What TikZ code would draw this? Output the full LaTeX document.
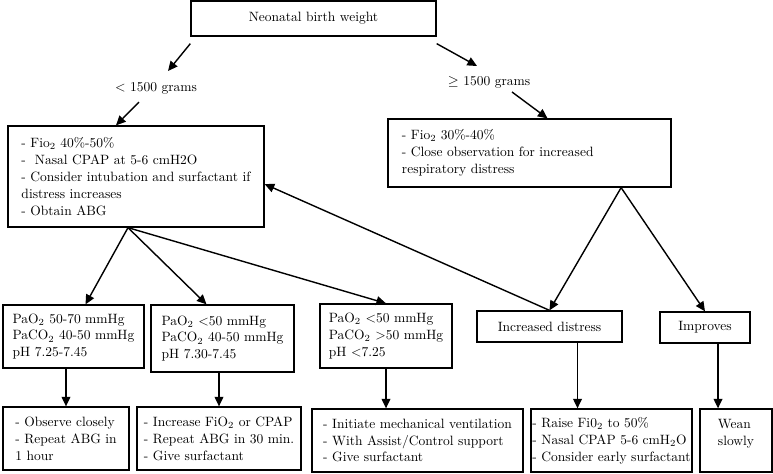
\documentclass[tikz,border=0pt]{standalone}
\usepackage{tikz}
\usetikzlibrary{arrows.meta}

\tikzset{
  box/.style={draw,line width=0.9pt,align=left,inner xsep=0pt},
  arr/.style={-{Triangle[length=2.4mm,width=2.2mm]},line width=1pt},
}

\begin{document}
\begin{tikzpicture}[x=0.025cm,y=-0.025cm,font=\fontsize{9.6}{12}\selectfont]
\useasboundingbox (0,0) rectangle (773,473);

\node (w) at (313.5,18.5) [box,align=center,minimum width=6.125cm,minimum height=0.875cm] {Neonatal birth weight};
\node (lo) at (156,88) {< 1500 grams};
\node (hi) at (489,82) {$\geq$ 1500 grams};

\node (low) at (136,176.5) [box,minimum width=6.4cm,minimum height=2.525cm] {- Fio\textsubscript{2} 40\%-50\%\\-\ \ Nasal CPAP at 5-6 cmH2O\\- Consider intubation and surfactant if\\distress increases\\- Obtain ABG};
\node (high) at (529.5,153) [box,text width=6.375cm,inner xsep=0.35cm,minimum height=1.7cm] {- Fio\textsubscript{2} 30\%-40\%\\- Close observation for increased\\respiratory distress};

\node (pA) at (73.5,336.5) [box,minimum width=3.525cm,minimum height=1.575cm] {PaO\textsubscript{2} 50-70 mmHg\\PaCO\textsubscript{2} 40-50 mmHg\\pH 7.25-7.45};
\node (pB) at (222.5,338.5) [box,minimum width=3.575cm,minimum height=1.675cm] {PaO\textsubscript{2} <50 mmHg\\PaCO\textsubscript{2} 40-50 mmHg\\pH 7.30-7.45};
\node (pC) at (386,336) [box,minimum width=3.3cm,minimum height=1.6cm] {PaO\textsubscript{2} <50 mmHg\\PaCO\textsubscript{2} >50 mmHg\\pH <7.25};
\node (inc) at (549.5,326.5) [box,align=center,minimum width=3.625cm,minimum height=0.775cm] {Increased distress};
\node (imp) at (705,327.5) [box,align=center,minimum width=2.25cm,minimum height=0.775cm] {Improves};

\node (aA) at (66,438.5) [box,minimum width=3.15cm,minimum height=1.575cm] {- Observe closely\\- Repeat ABG in\\1 hour};
\node (aB) at (219,438.5) [box,minimum width=4.1cm,minimum height=1.575cm] {- Increase FiO\textsubscript{2} or CPAP\\- Repeat ABG in 30 min.\\- Give surfactant};
\node (aC) at (417.5,440.5) [box,minimum width=5.275cm,minimum height=1.575cm] {- Initiate mechanical ventilation\\- With Assist/Control support\\- Give surfactant};
\node (aD) at (611.5,440.5) [box,minimum width=4.025cm,minimum height=1.575cm] {- Raise Fi0\textsubscript{2} to 50\%\\- Nasal CPAP 5-6 cmH\textsubscript{2}O\\- Consider early surfactant};
\node (aE) at (736,440.5) [box,minimum width=1.8cm,minimum height=1.575cm] {Wean\\slowly\\\mbox{}};

\draw [arr] ([yshift=-0.175cm]w.south west) -- ([xshift=0.3cm,yshift=0.425cm]lo.center);
\draw [arr] ([xshift=-0.425cm,yshift=-0.35cm]lo.center) -- ([xshift=-0.5cm]low.north);
\draw [arr] ([yshift=-0.175cm]w.south east) -- ([xshift=-0.3cm,yshift=0.4cm]hi.center);
\draw [arr] ([xshift=0.575cm,yshift=-0.25cm]hi.center) -- ([xshift=0.45cm]high.north);

\draw [arr] ([xshift=2.29cm]high.south) -- (inc.north);
\draw [arr] ([xshift=2.29cm]high.south) -- (imp.north);
\draw [arr] (inc.north) -- ([yshift=-0.19cm]low.east);

\draw [arr] ([xshift=-0.2cm]low.south) -- ([xshift=0.3cm]pA.north);
\draw [arr] ([xshift=-0.2cm]low.south) -- ([xshift=-0.4cm]pB.north);
\draw [arr] ([xshift=-0.2cm]low.south) -- (pC.north);

\draw [arr] (pA.south -| aA.north) -- (aA.north);
\draw [arr] (pB.south -| aB.north) -- (aB.north);
\draw [arr] (pC.south) -- (pC.south |- aC.north);
\draw [arr] ([xshift=0.7cm]inc.south) -- ([xshift=0.7cm]inc.south |- aD.north);
\draw [arr] ([xshift=0.325cm]imp.south) -- ([xshift=0.325cm]imp.south |- aE.north);

\end{tikzpicture}
\end{document}
